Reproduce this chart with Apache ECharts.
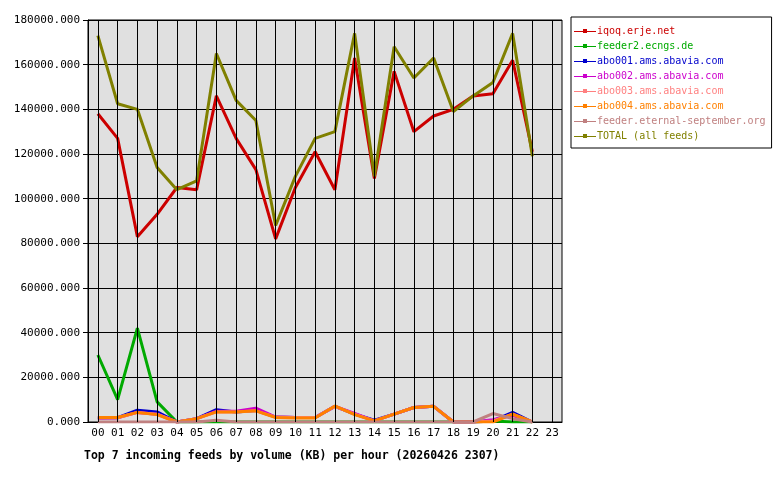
<!DOCTYPE html>
<html><head><meta charset="utf-8">
<script src="https://cdn.jsdelivr.net/npm/echarts@6/dist/echarts.min.js"></script>
<style>html,body{margin:0;padding:0;background:#fff}#c{width:780px;height:480px}</style>
</head><body><div id="c"></div>
<script>
const hours = ['00','01','02','03','04','05','06','07','08','09','10','11','12','13','14','15','16','17','18','19','20','21','22','23'];
const names = ['iqoq.erje.net','feeder2.ecngs.de','abo001.ams.abavia.com','abo002.ams.abavia.com','abo003.ams.abavia.com','abo004.ams.abavia.com','feeder.eternal-september.org','TOTAL (all feeds)'];
const colors = ['#cc0000','#00aa00','#0000cc','#cc00cc','#ff8080','#ff8000','#c08080','#808000'];
const iqoq =   [138000,127000,83000,93000,105000,104000,146000,127000,113000,82000,105000,121000,104000,163000,109000,157000,130000,137000,140000,146000,147000,162000,121000];
const feeder2 =[30000,10000,42000,9000,0,0,0,0,0,0,0,0,0,0,0,0,0,0,0,0,500,0,0];
const abo001 = [1800,1900,5300,4500,0,1500,5500,4500,5200,2200,2000,2000,7000,3500,800,3500,6500,7000,0,0,500,4300,0];
const abo002 = [1800,1900,4300,3500,0,1500,4800,4800,6200,2200,2000,2000,7000,3800,500,3500,6500,7000,0,0,1000,3000,0];
const abo003 = [1800,1900,4300,3500,0,1500,4500,4500,5000,2200,2000,2000,7000,3500,500,3500,6500,7000,0,0,500,3500,0];
const abo004 = [2000,2000,4300,3300,0,1500,4500,4500,5000,2000,1800,1800,7200,3300,500,3500,6500,7000,0,0,0,3500,0];
const eternal =[0,0,0,0,0,0,800,0,0,0,0,0,0,0,0,0,0,0,0,0,3800,1500,0];
const total =  [173000,142500,140000,114000,104000,108000,165000,144000,135000,88000,110000,127000,130000,174000,110000,168000,154000,163000,139000,146000,152000,174000,119000];
const seriesData = [iqoq,feeder2,abo001,abo002,abo003,abo004,eternal,total];
const font = 'DejaVu Sans Mono';
const chart = echarts.init(document.getElementById('c'));
const series = seriesData.map((d,i)=>({
  name:names[i], type:'line', data:d, symbol:'none', color:colors[i],
  lineStyle:{width:3,color:colors[i]}, animation:false, z:3
}));
series[0].markLine = {silent:true, symbol:'none', label:{show:false}, animation:false,
  lineStyle:{color:'#000',width:1,type:'solid'},
  data: hours.map(h=>({xAxis:h}))};
chart.setOption({
  animation:false,
  title:{text:'Top 7 incoming feeds by volume (KB) per hour (20260426 2307)', left:79, top:445,
    textStyle:{fontFamily:font,fontSize:11.5,fontWeight:'bold',color:'#000'}},
  legend:{orient:'vertical', left:571, top:17, itemGap:5, itemWidth:22, itemHeight:10,
    borderColor:'#000', borderWidth:1, padding:[9,6,7,3], icon:'path://M0,5H22V6H0Z M9,3H13V7H9Z',
    data:names.map((n,i)=>({name:n, textStyle:{color:colors[i]}})),
    textStyle:{fontFamily:font,fontSize:10, padding:[0,0,0,-4]}},
  grid:{left:88, top:20, width:474, height:402, show:true, backgroundColor:'#e0e0e0', borderColor:'#000', borderWidth:1},
  xAxis:{type:'category', data:hours, boundaryGap:true,
    axisLine:{lineStyle:{color:'#000'}}, axisTick:{alignWithLabel:true, lineStyle:{color:'#000'}},
    splitLine:{show:false},
    axisLabel:{interval:0, fontFamily:font, fontSize:11, color:'#000', margin:6}},
  yAxis:{type:'value', min:0, max:180000, interval:20000,
    axisLine:{show:true,lineStyle:{color:'#000'}}, axisTick:{show:true,lineStyle:{color:'#000'}},
    splitLine:{lineStyle:{color:'#000',width:1}},
    axisLabel:{fontFamily:font,fontSize:11,color:'#000',formatter:v=>v.toFixed(3)}},
  series
});
</script></body></html>
